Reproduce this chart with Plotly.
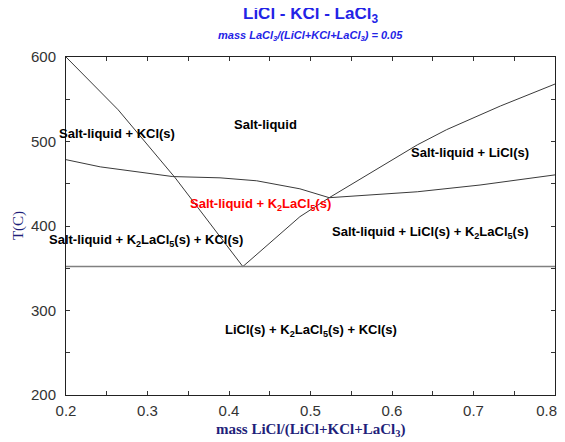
import plotly.graph_objects as go

# KCl liquidus (from top-left to binary eutectic)
kcl_x = [0.200, 0.264, 0.334, 0.417]
kcl_T = [600.0, 537.5, 457.0, 352.0]

# K2LaCl5 / KCl boundary (upper curve from left to ternary point)
k2_x = [0.200, 0.242, 0.331, 0.389, 0.434, 0.487, 0.523]
k2_T = [478.5, 470.0, 458.5, 457.0, 453.5, 444.0, 433.5]

# LiCl liquidus (from eutectic up to the right)
licl_x = [0.417, 0.487, 0.523, 0.631, 0.667, 0.733, 0.800]
licl_T = [352.0, 411.0, 433.5, 496.0, 514.0, 542.0, 568.0]

# LiCl / K2LaCl5 boundary (lower right curve)
lk_x = [0.523, 0.631, 0.708, 0.800]
lk_T = [433.5, 440.5, 448.5, 460.5]

# solidus
sol_x = [0.2, 0.8]
sol_T = [352.0, 352.0]

x_tickvals = [0.2, 0.3, 0.4, 0.5, 0.6, 0.7, 0.8]
x_ticktext = ["0.2", "0.3", "0.4", "0.5", "0.6", "0.7", "0.8"]
y_tickvals = [200, 300, 400, 500, 600]

labels = ["Salt-liquid",
          "Salt-liquid + KCl(s)",
          "Salt-liquid + LiCl(s)",
          "Salt-liquid + K<sub>2</sub>LaCl<sub>5</sub>(s)",
          "Salt-liquid + K<sub>2</sub>LaCl<sub>5</sub>(s) + KCl(s)",
          "Salt-liquid + LiCl(s) + K<sub>2</sub>LaCl<sub>5</sub>(s)",
          "LiCl(s) + K<sub>2</sub>LaCl<sub>5</sub>(s) + KCl(s)"]
label_x = [0.445, 0.262, 0.696, 0.439, 0.298, 0.647, 0.501]
label_T = [520.0, 510.0, 486.5, 425.0, 383.0, 392.0, 276.0]
label_col = ["black", "black", "black", "red", "black", "black", "black"]

title_text = "LiCl - KCl - LaCl<sub>3</sub>"
subtitle_text = "mass LaCl<sub>3</sub>/(LiCl+KCl+LaCl<sub>3</sub>) = 0.05"
xtitle_text = "mass LiCl/(LiCl+KCl+LaCl<sub>3</sub>)"
ytitle_text = "T(C)"

fig = go.Figure()
line_style = dict(color="#3a3a3a", width=1)
for xs, ts in [(kcl_x, kcl_T), (k2_x, k2_T), (licl_x, licl_T), (lk_x, lk_T)]:
    fig.add_trace(go.Scatter(x=xs, y=ts, mode="lines", line=line_style,
                             hoverinfo="skip", showlegend=False))
fig.add_trace(go.Scatter(x=sol_x, y=sol_T, mode="lines",
                         line=dict(color="#808080", width=1.6),
                         hoverinfo="skip", showlegend=False))

for t, x, y, c in zip(labels, label_x, label_T, label_col):
    fig.add_annotation(x=x, y=y, text="<b>" + t + "</b>", showarrow=False,
                       font=dict(family="Arial, Liberation Sans", size=13, color=c),
                       xanchor="center", yanchor="middle")

blue = "#2323e6"
navy = "#1f1f7a"
fig.add_annotation(x=0.5, y=1.124, xref="paper", yref="paper", showarrow=False,
                   text="<b>" + title_text + "</b>", xanchor="center", yanchor="middle",
                   font=dict(family="Arial, Liberation Sans", size=17, color=blue))
fig.add_annotation(x=0.5, y=1.062, xref="paper", yref="paper", showarrow=False,
                   text="<b><i>" + subtitle_text + "</i></b>", xanchor="center", yanchor="middle",
                   font=dict(family="Arial, Liberation Sans", size=11, color=blue))
fig.add_annotation(x=0.5, y=-0.104, xref="paper", yref="paper", showarrow=False,
                   text="<b>" + xtitle_text + "</b>", xanchor="center", yanchor="middle",
                   font=dict(family="Liberation Serif, Times New Roman", size=15, color=navy))
fig.add_annotation(x=-0.098, y=0.5, xref="paper", yref="paper", showarrow=False,
                   text=ytitle_text, textangle=-90, xanchor="center", yanchor="middle",
                   font=dict(family="Liberation Serif, Times New Roman", size=15, color=navy))

# keep the last tick label inside the visible page
x_ticktext_shown = x_ticktext[:-1] + [x_ticktext[-1] + "&nbsp;&nbsp;&nbsp;&nbsp;"]

fig.update_layout(
    width=557, height=434,
    margin=dict(l=58, r=10, t=49, b=47, autoexpand=False),
    paper_bgcolor="white", plot_bgcolor="white",
    showlegend=False,
    xaxis=dict(
        range=[0.2, 0.8], tickmode="array",
        tickvals=x_tickvals, ticktext=x_ticktext_shown,
        ticks="inside", ticklen=4, tickcolor="#333",
        minor=dict(tickvals=[0.25, 0.35, 0.45, 0.55, 0.65, 0.75], ticks="inside", ticklen=4, tickcolor="#333"),
        showline=True, linecolor="#222", linewidth=1, mirror="ticks",
        showgrid=False, zeroline=False, automargin=False,
        tickfont=dict(family="Arial, Liberation Sans", size=15, color="#333"),
        ticklabelstandoff=2, ticklabeloverflow="allow",
    ),
    yaxis=dict(
        range=[200, 600], tickmode="array",
        tickvals=y_tickvals,
        ticks="inside", ticklen=4, tickcolor="#333",
        minor=dict(tickvals=[250, 350, 450, 550], ticks="inside", ticklen=4, tickcolor="#333"),
        showline=True, linecolor="#222", linewidth=1, mirror="ticks",
        showgrid=False, zeroline=False, automargin=False,
        tickfont=dict(family="Arial, Liberation Sans", size=15, color="#333"),
        ticklabelstandoff=6, ticklabeloverflow="allow",
    ),
)

fig.write_html("out.html")
